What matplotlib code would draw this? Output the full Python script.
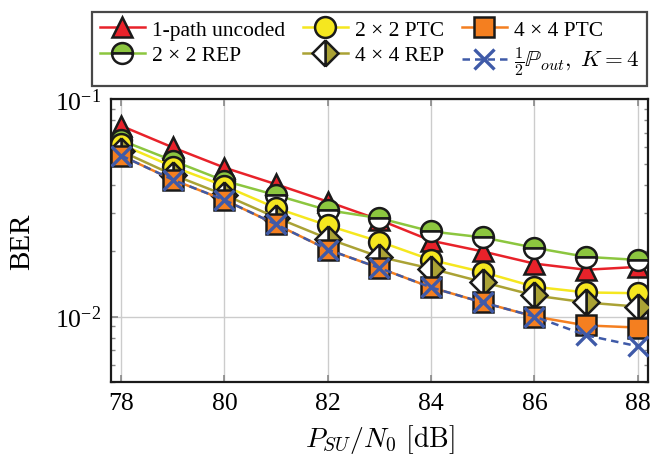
import matplotlib
matplotlib.use("Agg")
import matplotlib.pyplot as plt

plt.rcParams['font.family'] = 'serif'
plt.rcParams['font.serif'] = ['Liberation Serif', 'DejaVu Serif']
plt.rcParams['mathtext.fontset'] = 'cm'

snr = [78, 79, 80, 81, 82, 83, 84, 85, 86, 87, 88]

ber_uncoded = [0.0752, 0.0598, 0.0483, 0.0405, 0.0337, 0.0278, 0.0223, 0.0199, 0.0175, 0.0164, 0.0169]
ber_rep2 = [0.0645, 0.0520, 0.0420, 0.0361, 0.0308, 0.0283, 0.0246, 0.0231, 0.0207, 0.0188, 0.0182]
ber_ptc2 = [0.0618, 0.0488, 0.0398, 0.0315, 0.0262, 0.0221, 0.0182, 0.0160, 0.0137, 0.0129, 0.0128]
ber_rep4 = [0.0575, 0.0448, 0.0362, 0.0285, 0.0228, 0.0188, 0.0166, 0.0144, 0.0125, 0.0116, 0.0111]
ber_ptc4 = [0.0549, 0.0425, 0.0343, 0.0265, 0.0203, 0.0167, 0.0136, 0.0116, 0.0100, 0.0091, 0.0089]
ber_pout = [0.0549, 0.0425, 0.0343, 0.0265, 0.0203, 0.0167, 0.0136, 0.0116, 0.0100, 0.0082, 0.0073]

fig = plt.figure(figsize=(6.52, 4.56), dpi=100)
ax = fig.add_axes([0.170, 0.160, 0.824, 0.621])

ms = 15
mew = 1.8
lw = 1.8

ax.plot(snr, ber_uncoded, color='#e8222a', lw=lw, marker='^', ms=ms, mfc='#e8222a',
        mec='#1a1a1a', mew=mew, label='1-path uncoded', zorder=3)
ax.plot(snr, ber_rep2, color='#8cc63f', lw=lw, marker='o', ms=ms, mfc='#8cc63f',
        fillstyle='top', markerfacecoloralt='white', mec='#1a1a1a', mew=mew,
        label='2 × 2 REP', zorder=4)
ax.plot(snr, ber_ptc2, color='#f5e71f', lw=lw, marker='o', ms=ms, mfc='#f5e71f',
        mec='#1a1a1a', mew=mew, label='2 × 2 PTC', zorder=5)
ax.plot(snr, ber_rep4, color='#aaa235', lw=lw, marker='D', ms=13, mfc='#aaa235',
        fillstyle='right', markerfacecoloralt='white', mec='#1a1a1a', mew=mew,
        label='4 × 4 REP', zorder=6)
ax.plot(snr, ber_ptc4, color='#f47f20', lw=lw, marker='s', ms=ms, mfc='#f47f20',
        mec='#1a1a1a', mew=mew, label='4 × 4 PTC', zorder=7)
ax.plot(snr, ber_pout, color='#3f5aa8', lw=lw, ls=(0, (3, 2)), marker='x', ms=14,
        mew=2.4, label=r'$\frac{1}{2}\mathbb{P}_{out},\;K = 4$', zorder=8)

ax.set_yscale('log')
ax.set_xlim(77.8, 88.2)
ax.set_ylim(5e-3, 0.1)
ax.set_xticks([78, 80, 82, 84, 86, 88])
ax.grid(True, which='major', color='#cccccc', lw=1.0)
ax.set_axisbelow(True)
ax.tick_params(which='both', direction='in', top=True, right=True, color='#888888',
               labelsize=18.5, pad=7)
ax.tick_params(which='major', length=5, width=1.2)
ax.tick_params(which='minor', length=3, width=1.0)
for sp in ax.spines.values():
    sp.set_linewidth(1.6)
    sp.set_color('#1a1a1a')

ax.set_xlabel(r'$P_{SU}/N_0\ [\mathrm{dB}]$', fontsize=20, labelpad=6)
ax.set_ylabel('BER', fontsize=21, labelpad=14)

handles, labels = ax.get_legend_handles_labels()
leg = fig.legend(handles, labels,
                 loc='upper left', bbox_to_anchor=(92 / 652, 1 - 13 / 456),
                 ncol=3, fontsize=15.5, frameon=True, fancybox=False,
                 edgecolor='#1a1a1a', handlelength=2.1, handletextpad=0.35,
                 columnspacing=0.8, borderpad=0.35, labelspacing=0.25,
                 borderaxespad=0)
leg.get_frame().set_linewidth(1.6)
for t in leg.get_texts()[-1:]:
    t.set_fontsize(16.5)

fig.savefig('out.png', dpi=100)
